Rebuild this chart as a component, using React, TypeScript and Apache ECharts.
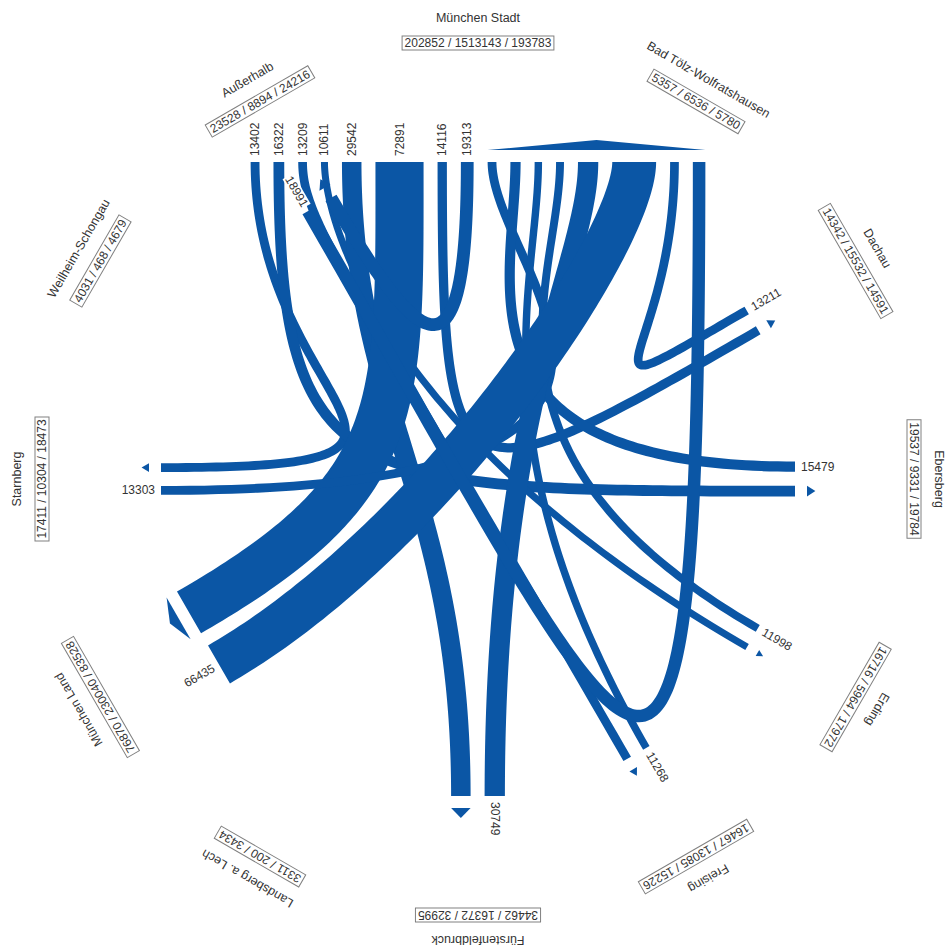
import React, { useEffect, useRef } from "react";
import * as echarts from "echarts";

// ---------- data ----------
// node order: 0 München Stadt, 1 Bad Tölz-Wolfratshausen, 2 Dachau, 3 Ebersberg, 4 Erding,
// 5 Freising, 6 Fürstenfeldbruck, 7 Landsberg a. Lech, 8 München Land, 9 Starnberg,
// 10 Weilheim-Schongau, 11 Außerhalb
const NODE_NAMES = [
  "München Stadt", "Bad Tölz-Wolfratshausen", "Dachau", "Ebersberg", "Erding",
  "Freising", "Fürstenfeldbruck", "Landsberg a. Lech", "München Land", "Starnberg",
  "Weilheim-Schongau", "Außerhalb",
];
const STAT_A = [202852, 5357, 14342, 19537, 16716, 16467, 34462, 3311, 76870, 17411, 4031, 23528];
const STAT_B = [1513143, 6536, 15532, 9331, 5964, 13085, 16372, 200, 230040, 10304, 468, 8894];
const STAT_C = [193783, 5780, 14591, 19784, 17972, 15226, 32995, 3434, 83528, 18473, 4679, 24216];

const FLOW_SOURCE = [0, 0, 0, 0, 0, 0, 0, 0, 9, 3, 5, 4, 6, 8, 2, 11];
const FLOW_TARGET = [9, 3, 5, 4, 6, 8, 2, 11, 0, 0, 0, 0, 0, 0, 0, 0];
const FLOW_VALUE = [
  13402, 16322, 13209, 10611, 29542, 72891, 14116, 19313,
  13303, 15479, 11268, 11998, 30749, 66435, 13211, 18991,
];

// ---------- layout (not data) ----------
const NODE_ANGLE = [90, 60, 30, 0, -30, -60, -90, -120, -150, 180, 150, 120];
// curve arm lengths (px) at the source end and at the target end of each flow
const ARM_SOURCE = [250, 330, 60, 60, 250, 250, 350, 230, 600, 350, 350, 350, 400, 250, 220, 680];
const ARM_TARGET = [350, 450, 560, 420, 300, 250, 350, 180, 110, 120, 120, 120, 100, 80, 200, 820];

const CX = 478;
const CY = 479;
const R_PORT = 317;
const R_BOX = 436;
const R_NAME = 461;
const GAP = 14;
const PX_PER_UNIT = 0.00066;
const BLUE = "#0b56a5";
const TEXT = "#333333";
const FONT = "12px 'Liberation Sans', Arial, sans-serif";
const NAME_FONT = "12.5px 'Liberation Sans', Arial, sans-serif";

type P = [number, number];

const rad = (d: number) => (d * Math.PI) / 180;
const outward = (n: number): P => [Math.cos(rad(NODE_ANGLE[n])), -Math.sin(rad(NODE_ANGLE[n]))];
const tangent = (n: number): P => [Math.sin(rad(NODE_ANGLE[n])), Math.cos(rad(NODE_ANGLE[n]))];

// port positions
const outPos: P[] = [];
const inPos: P[] = [];
const arrows: (null | { a: P; b: P; tip: P })[] = [];
for (let n = 0; n < NODE_NAMES.length; n++) {
  const o = outward(n);
  const t = tangent(n);
  const items: { f: number; kind: "out" | "in" }[] = [];
  FLOW_SOURCE.forEach((s, f) => { if (s === n) items.push({ f, kind: "out" }); });
  FLOW_TARGET.forEach((s, f) => { if (s === n) items.push({ f, kind: "in" }); });
  if (!items.length) { arrows.push(null); continue; }
  const widths = items.map((it) => FLOW_VALUE[it.f] * PX_PER_UNIT);
  const W = widths.reduce((a, b) => a + b, 0) + GAP * (items.length - 1);
  let s = -W / 2;
  let inMin = Infinity, inMax = -Infinity;
  items.forEach((it, k) => {
    const c = s + widths[k] / 2;
    const p: P = [CX + R_PORT * o[0] + c * t[0], CY + R_PORT * o[1] + c * t[1]];
    if (it.kind === "out") outPos[it.f] = p;
    else {
      inPos[it.f] = p;
      inMin = Math.min(inMin, s);
      inMax = Math.max(inMax, s + widths[k]);
    }
    s += widths[k] + GAP;
  });
  if (inMax > inMin) {
    const base = R_PORT + 12;
    const h = Math.min(10, 3 + 0.5 * (inMax - inMin));
    const bp = (sv: number, r: number): P => [CX + r * o[0] + sv * t[0], CY + r * o[1] + sv * t[1]];
    arrows.push({ a: bp(inMin, base), b: bp(inMax, base), tip: bp((inMin + inMax) / 2, base + h) });
  } else arrows.push(null);
}

function bez(p0: P, p1: P, p2: P, p3: P, t: number): P {
  const u = 1 - t;
  const a = u * u * u, b = 3 * u * u * t, c = 3 * u * t * t, d = t * t * t;
  return [a * p0[0] + b * p1[0] + c * p2[0] + d * p3[0], a * p0[1] + b * p1[1] + c * p2[1] + d * p3[1]];
}
function bezD(p0: P, p1: P, p2: P, p3: P, t: number): P {
  const u = 1 - t;
  const a = 3 * u * u, b = 6 * u * t, c = 3 * t * t;
  return [
    a * (p1[0] - p0[0]) + b * (p2[0] - p1[0]) + c * (p3[0] - p2[0]),
    a * (p1[1] - p0[1]) + b * (p2[1] - p1[1]) + c * (p3[1] - p2[1]),
  ];
}

function renderFlow(params: any, api: any) {
  const i = params.dataIndex;
  const sN = api.value(0);
  const tN = api.value(1);
  const v = api.value(2);
  const w = v * PX_PER_UNIT;
  const p0 = outPos[i];
  const p3 = inPos[i];
  const o0 = outward(sN), o3 = outward(tN);
  const p1: P = [p0[0] - o0[0] * ARM_SOURCE[i], p0[1] - o0[1] * ARM_SOURCE[i]];
  const p2: P = [p3[0] - o3[0] * ARM_TARGET[i], p3[1] - o3[1] * ARM_TARGET[i]];
  const N = 120;
  const left: P[] = [];
  const right: P[] = [];
  for (let k = 0; k <= N; k++) {
    const t = k / N;
    const p = bez(p0, p1, p2, p3, t);
    let d = bezD(p0, p1, p2, p3, t);
    let L = Math.hypot(d[0], d[1]);
    if (L < 1e-6) { d = [p3[0] - p0[0], p3[1] - p0[1]]; L = Math.hypot(d[0], d[1]); }
    const nx = -d[1] / L, ny = d[0] / L;
    left.push(api.coord([p[0] + nx * w / 2, p[1] + ny * w / 2]));
    right.push(api.coord([p[0] - nx * w / 2, p[1] - ny * w / 2]));
  }
  const pts = left.concat(right.reverse());
  // value label at source
  const th = NODE_ANGLE[sN];
  const rightSide = Math.cos(rad(th)) > 0.01 || Math.abs(th - 90) < 1 || Math.abs(th + 90) < 1;
  const lp = api.coord([p0[0] + o0[0] * 5, p0[1] + o0[1] * 5]);
  return {
    type: "group",
    children: [
      { type: "polygon", shape: { points: pts }, style: { fill: BLUE } },
      {
        type: "text",
        x: lp[0],
        y: lp[1],
        z2: 10,
        rotation: rightSide ? rad(th) : rad(th - 180),
        style: {
          text: String(v),
          fill: TEXT,
          font: FONT,
          align: rightSide ? "left" : "right",
          verticalAlign: "middle",
          backgroundColor: "#ffffff",
          padding: [0, 1, 0, 1],
        },
      },
    ],
  };
}

function renderNode(params: any, api: any) {
  const n = api.value(0);
  const o = outward(n);
  const rot = rad(NODE_ANGLE[n] - 90);
  const np = api.coord([CX + R_NAME * o[0], CY + R_NAME * o[1]]);
  const bp = api.coord([CX + R_BOX * o[0], CY + R_BOX * o[1]]);
  const children: any[] = [
    {
      type: "text", x: np[0], y: np[1], rotation: rot,
      style: { text: NODE_NAMES[n], fill: TEXT, font: NAME_FONT, align: "center", verticalAlign: "middle" },
    },
    {
      type: "text", x: bp[0], y: bp[1], rotation: rot,
      style: {
        text: `${STAT_A[n]} / ${STAT_B[n]} / ${STAT_C[n]}`,
        fill: TEXT, font: FONT, align: "center", verticalAlign: "middle",
        borderColor: "#808080", borderWidth: 1, padding: [1, 2, 0, 2], backgroundColor: "#fff",
      },
    },
  ];
  const ar = arrows[n];
  if (ar) {
    children.push({
      type: "polygon",
      shape: { points: [api.coord(ar.a), api.coord(ar.b), api.coord(ar.tip)] },
      style: { fill: BLUE },
    });
  }
  return { type: "group", children };
}

export default function App() {
  const ref = useRef<HTMLDivElement>(null);
  useEffect(() => {
    const chart = echarts.init(ref.current!, null, { renderer: "svg" });
    chart.setOption({
      animation: false,
      backgroundColor: "#ffffff",
      grid: { left: 0, right: 0, top: 0, bottom: 0 },
      xAxis: { type: "value", min: 0, max: 946, show: false },
      yAxis: { type: "value", min: 0, max: 950, inverse: true, show: false },
      series: [
        {
          type: "custom",
          coordinateSystem: "cartesian2d",
          silent: true,
          data: FLOW_VALUE.map((v, i) => [FLOW_SOURCE[i], FLOW_TARGET[i], v]),
          renderItem: renderFlow,
        },
        {
          type: "custom",
          coordinateSystem: "cartesian2d",
          silent: true,
          data: NODE_NAMES.map((_, i) => [i, 0]),
          renderItem: renderNode,
        },
      ],
    });
    return () => chart.dispose();
  }, []);
  return (
    <div
      ref={ref}
      style={{ position: "absolute", left: 0, top: 0, width: 946, height: 950, background: "#fff" }}
    />
  );
}
